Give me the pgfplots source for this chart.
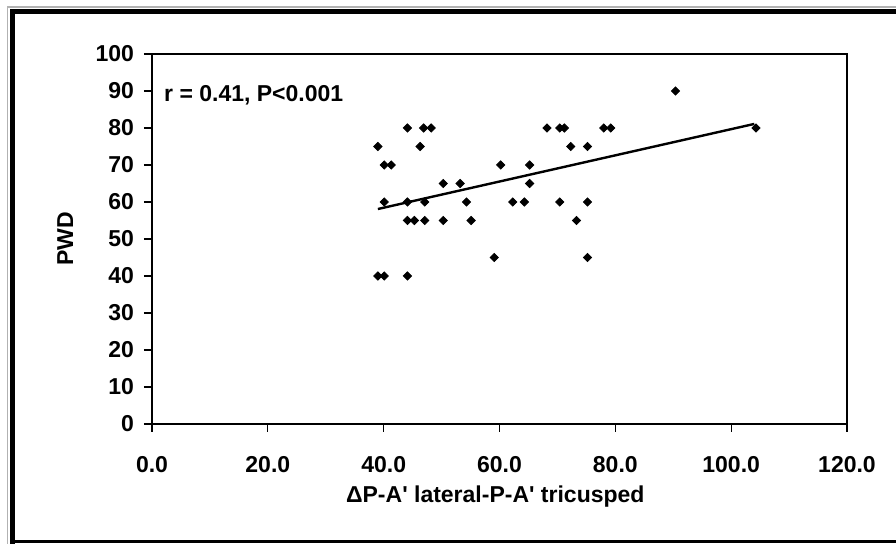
\documentclass[border=0pt]{standalone}
\usepackage{fontspec}
\setmainfont{Liberation Sans}
\usepackage{pgfplots}
\pgfplotsset{compat=1.18}

\begin{document}
\fontsize{11.5}{13}\selectfont\bfseries
\begin{tikzpicture}
    % page = 896x544 px at 0.5pt per px
    \useasboundingbox (0pt,0pt) rectangle (448pt,272pt);
    % outer frame (right side is cut off in the original)
    \draw[gray!60, line width=0.6pt] (3.8pt,-2pt) -- (3.8pt,268.5pt) -- (452pt,268.5pt);
    \draw[black, line width=2.6pt] (6.3pt,-2pt) -- (6.3pt,266.3pt) -- (452pt,266.3pt);
    \draw[black, line width=1.4pt] (6.3pt,1.2pt) -- (452pt,1.2pt);

    \begin{axis}[
        at={(76pt,60pt)}, anchor=origin,
        scale only axis,
        width=347.5pt, height=185pt,
        xmin=0, xmax=120, ymin=0, ymax=100,
        xtick={0,20,...,120},
        ytick={0,10,...,100},
        axis line style={line width=1.1pt},
        tick style={line width=0.6pt, black},
        tick align=outside,
        major tick length=4pt,
        xtick pos=bottom, ytick pos=left,
        /pgf/number format/assume math mode=true,
        xticklabel={\pgfmathprintnumber[fixed,fixed zerofill,precision=1]{\tick}},
        xticklabel style={font=\bfseries, yshift=-8pt},
        yticklabel style={font=\bfseries, xshift=-1pt},
        xlabel={Δ{}P-A\textquotesingle{} lateral-P-A\textquotesingle{} tricusped},
        ylabel={PWD},
        xlabel style={at={(axis description cs:0.494,-0.197)}, anchor=center, font=\bfseries},
        ylabel style={at={(axis description cs:-0.125,0.5)}, anchor=center, font=\bfseries},
        clip=false,
    ]
    \addplot[only marks, mark=square*, mark size=1.45pt,
             mark options={rotate=45, fill=black, draw=black}]
      table {
        x     y
        39.0  75
        44.1  80
        46.9  80
        48.2  80
        46.3  75
        40.1  70
        41.3  70
        50.3  65
        53.2  65
        40.1  60
        44.1  60
        47.1  60
        44.1  55
        45.3  55
        47.1  55
        50.3  55
        39.0  40
        40.1  40
        44.1  40
        90.4  90
        104.3 80
        68.2  80
        70.4  80
        71.2  80
        78.0  80
        79.2  80
        72.3  75
        75.2  75
        60.2  70
        65.2  70
        65.2  65
        54.3  60
        62.3  60
        64.3  60
        70.4  60
        75.2  60
        55.1  55
        73.3  55
        59.1  45
        75.2  45
      };
    % regression line
    \addplot[black, line width=1.2pt] coordinates {(39,58.1) (104,81.1)};
    \node[anchor=west, inner sep=0pt, font=\bfseries]
      at (rel axis cs:0.017,0.889) {r = 0.41, P<0.001};
    \end{axis}
\end{tikzpicture}
\end{document}
